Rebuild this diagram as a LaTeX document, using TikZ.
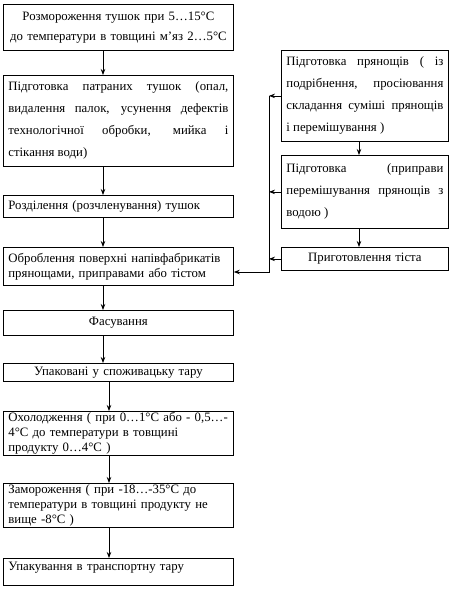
\documentclass[tikz,border=0pt]{standalone}
\usepackage{fontspec}
\setmainfont{Liberation Serif}
\usetikzlibrary{arrows.meta}
\begin{document}
\begin{tikzpicture}[x=1pt,y=-1pt,
  box/.style={draw, line width=0.8pt, anchor=north west, inner xsep=5pt, inner ysep=0pt,
    font=\fontsize{12.8}{15}\selectfont},
  lbox/.style={box, text width=220pt, minimum height=#1},
  rbox/.style={box, text width=157pt, minimum height=#1},
  wide/.style={font=\fontsize{12.8}{22}\selectfont},
  arr/.style={line width=0.8pt, -{Stealth[length=6pt,width=4.5pt]}}]
\useasboundingbox (0,0) rectangle (454,589);
% left column
\node[lbox=46pt, align=center, font=\fontsize{12.8}{20}\selectfont] (A) at (3,4)
  {Розмороження тушок при 5…15°С\\до температури в товщині м'яз 2…5°С};
\node[lbox=91pt, align=justify, wide] (B) at (3,75)
  {Підготовка патраних тушок (опал,\linebreak видалення палок, усунення дефектів\linebreak технологічної обробки, мийка і\linebreak стікання води)};
\node[lbox=22pt, align=left] (C) at (3,195) {Розділення (розчленування) тушок};
\node[lbox=38pt, align=left] (D) at (3,247)
  {Оброблення поверхні напівфабрикатів\\прянощами, приправами або тістом};
\node[lbox=25pt, align=center] (E) at (3,310) {Фасування};
\node[lbox=18pt, align=center] (F) at (3,363) {Упаковані у споживацьку тару};
\node[lbox=44pt, align=left] (G) at (3,411)
  {Охолодження ( при 0…1°С або - 0,5…-\\4°С до температури в товщині\\продукту 0…4°С )};
\node[lbox=44pt, align=left] (H) at (3,483)
  {Замороження ( при -18…-35°С до\\температури в товщині продукту не\\вище -8°С )};
\node[lbox=27pt, align=left, text depth=12pt] (I) at (3,558) {Упакування в транспортну тару};
% right column
\node[rbox=91pt, align=justify, wide] (R1) at (281,50)
  {Підготовка прянощів ( із\linebreak подрібнення, просіювання\linebreak складання суміші прянощів\linebreak і перемішування )};
\node[rbox=73pt, align=justify, wide] (R2) at (281,155)
  {Підготовка (приправи\linebreak перемішування прянощів з\linebreak водою )};
\node[rbox=23pt, align=center] (R3) at (281,247) {Приготовлення тіста};
% guide coordinates
\coordinate (xa) at (103,0);
\coordinate (xb) at (109,0);
\coordinate (xr) at (359,0);
\coordinate (xv) at (269,0);
\coordinate (fb) at (269,272);
% main flow
\draw[arr] (A.south -| xa) -- (B.north -| xa);
\draw[arr] (B.south -| xa) -- (C.north -| xa);
\draw[arr] (C.south -| xa) -- (D.north -| xa);
\draw[arr] (D.south -| xa) -- (E.north -| xa);
\draw[arr] (E.south -| xa) -- (F.north -| xa);
\draw[arr] (F.south -| xb) -- (G.north -| xb);
\draw[arr] (G.south -| xb) -- (H.north -| xb);
\draw[arr] (H.south -| xb) -- (I.north -| xb);
% right flow
\draw[arr] (R1.south -| xr) -- (R2.north -| xr);
\draw[arr] (R2.south -| xr) -- (R3.north -| xr);
% feedback
\draw[arr] (R1.west) -- (R1.west -| xv);
\draw[arr] (R2.west) -- (R2.west -| xv);
\draw[arr] (R3.west) -- (R3.west -| xv);
\draw[arr] (R1.west -| xv) -- (fb) -- (fb -| D.east);
\end{tikzpicture}
\end{document}
